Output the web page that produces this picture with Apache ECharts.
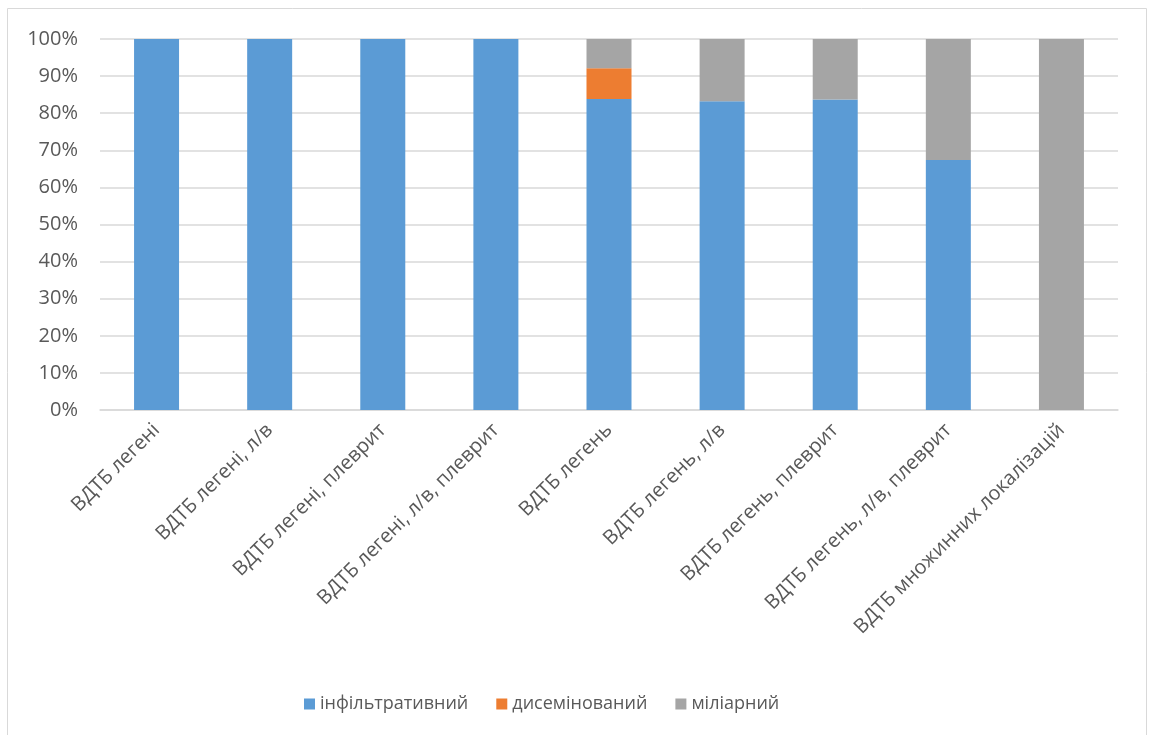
<!DOCTYPE html>
<html>
<head>
<meta charset="utf-8">
<script src="https://cdn.jsdelivr.net/npm/echarts@6/dist/echarts.min.js"></script>
<style>html,body{margin:0;padding:0;background:#fff}#c{width:1150px;height:735px}</style>
</head>
<body>
<div id="c"></div>
<script>
const categories = ['ВДТБ легені','ВДТБ легені, л/в','ВДТБ легені, плеврит','ВДТБ легені, л/в, плеврит','ВДТБ легень','ВДТБ легень, л/в','ВДТБ легень, плеврит','ВДТБ легень, л/в, плеврит','ВДТБ множинних локалізацій'];
const seriesNames = ['інфільтративний','дисемінований','міліарний'];
const infiltrative = [100,100,100,100,83.8,83.2,83.7,67.4,0];
const disseminated = [0,0,0,0,8.3,0,0,0,0];
const miliary = [0,0,0,0,7.9,16.8,16.3,32.6,100];
const yTicks = [0,10,20,30,40,50,60,70,80,90,100];

const font = 'Open Sans, Noto Sans, sans-serif';
const colors = ['#5b9bd5','#ed7d31','#a5a5a5'];
const data = [infiltrative, disseminated, miliary];
const chart = echarts.init(document.getElementById('c'));
chart.setOption({
  animation:false,
  color: colors,
  graphic:[{type:'rect',shape:{x:7.5,y:8.5,width:1139,height:740},style:{fill:'none',stroke:'#d9d9d9',lineWidth:1}}],
  grid:{left:100,right:32,top:39,bottom:325},
  legend:{top:690,left:299,itemWidth:11,itemHeight:11,itemGap:28,icon:'rect',
    textStyle:{fontFamily:font,fontSize:18,color:'#595959'},data:seriesNames},
  xAxis:{type:'category',data:categories,
    axisLine:{lineStyle:{color:'#d9d9d9',width:1.5}},axisTick:{show:false},
    axisLabel:{rotate:45,interval:0,fontFamily:font,fontSize:20,color:'#595959',margin:17}},
  yAxis:{type:'value',min:0,max:100,interval:10,
    axisLine:{show:false},axisTick:{show:false},
    splitLine:{lineStyle:{color:'#d9d9d9',width:1.5}},
    axisLabel:{formatter:v=>v+'%',fontFamily:font,fontSize:20,color:'#595959',margin:22}},
  series: seriesNames.map((n,i)=>({name:n,type:'bar',stack:'s',barWidth:45,data:data[i]}))
});
</script>
</body>
</html>
